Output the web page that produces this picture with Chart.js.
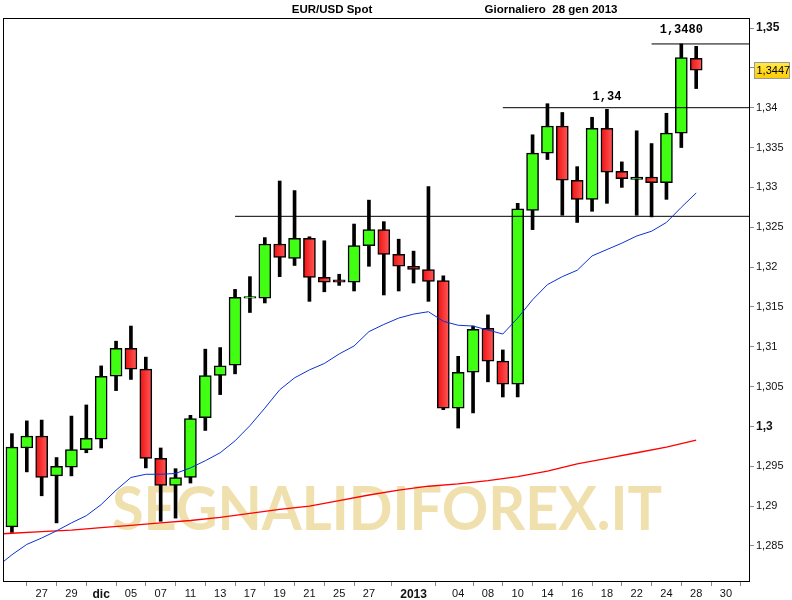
<!DOCTYPE html>
<html><head><meta charset="utf-8">
<script src="https://cdn.jsdelivr.net/npm/chart.js@4.4.1/dist/chart.umd.min.js"></script>
<style>html,body{margin:0;padding:0;background:#fff;}canvas{display:block;}</style>
</head><body>
<canvas id="c" width="792" height="600"></canvas>
<script>
// ---- DATA ----
const dayLabels = ['23','26','27','28','29','30','dic','04','05','06','07','10','11','12','13','14','17','18','19','20','21','24','25','26','27','28','31','2013','02','03','04','07','08','09','10','11','14','15','16','17','18','21','22','23','24','25','28','29','30'];
const xTickIdx = [2,4,6,8,10,12,14,16,18,20,22,24,27,30,32,34,36,38,40,42,44,46,48];
const boldXLabels = ['dic','2013'];

const openP  = [1.2874,1.2973,1.2988,1.2938,1.2949,1.2971,1.2984,1.3063,1.3098,1.3072,1.2960,1.2926,1.2936,1.3011,1.3064,1.3077,1.3161,1.3161,1.3229,1.3211,1.3236,1.3187,1.3184,1.3181,1.3227,1.3247,1.3216,1.3201,1.3197,1.3183,1.3023,1.3068,1.3123,1.3082,1.3053,1.3271,1.3343,1.3377,1.3309,1.3285,1.3374,1.3320,1.3310,1.3313,1.3306,1.3368,1.3462];
const highP  = [1.2991,1.3007,1.3008,1.2961,1.3013,1.3027,1.3076,1.3107,1.3126,1.3087,1.2973,1.2947,1.3014,1.3097,1.3099,1.3172,1.3188,1.3237,1.3308,1.3296,1.3238,1.3233,1.3191,1.3254,1.3284,1.3257,1.3235,1.3220,1.3301,1.3189,1.3088,1.3126,1.3140,1.3096,1.3280,1.3366,1.3405,1.3394,1.3326,1.3388,1.3398,1.3332,1.3371,1.3355,1.3393,1.3480,1.3477];
const lowP   = [1.2867,1.2943,1.2913,1.2879,1.2938,1.2967,1.2973,1.3045,1.3059,1.2948,1.2881,1.2885,1.2929,1.2995,1.3040,1.3066,1.3143,1.3155,1.3188,1.3202,1.3157,1.3169,1.3177,1.3170,1.3201,1.3165,1.3170,1.3180,1.3157,1.3021,1.2998,1.3017,1.3056,1.3037,1.3037,1.3247,1.3335,1.3265,1.3256,1.3270,1.3280,1.3300,1.3265,1.3263,1.3285,1.3350,1.3424];
const closeP = [1.2974,1.2988,1.2936,1.2950,1.2971,1.2985,1.3063,1.3098,1.3072,1.2960,1.2926,1.2936,1.3010,1.3064,1.3076,1.3162,1.3163,1.3229,1.3212,1.3236,1.3187,1.3181,1.3181,1.3227,1.3247,1.3216,1.3201,1.3197,1.3182,1.3023,1.3068,1.3122,1.3082,1.3053,1.3273,1.3343,1.3377,1.3309,1.3285,1.3374,1.3319,1.3311,1.3313,1.3306,1.3368,1.3463,1.3447];

const maFastStart = -1;
const maFast = [1.2824,1.2839,1.2852,1.2860,1.2869,1.2879,1.2888,1.2902,1.2920,1.2936,1.2940,1.2940,1.2941,1.2948,1.2957,1.2967,1.2982,1.3001,1.3023,1.3046,1.3061,1.3071,1.3079,1.3091,1.3101,1.3119,1.3128,1.3136,1.3141,1.3144,1.3132,1.3127,1.3126,1.3121,1.3116,1.3136,1.3159,1.3178,1.3188,1.3196,1.3214,1.3222,1.3230,1.3239,1.3245,1.3256,1.3275,1.3293];

const maSlowX = [-1,0,2,4,6,8,10,12,14,16,18,20,22,24,26,28,30,32,34,36,38,40,42,44,46];
const maSlow  = [1.2865,1.2866,1.2868,1.2870,1.2873,1.2876,1.2879,1.2882,1.2886,1.2891,1.2896,1.2900,1.2907,1.2914,1.2920,1.2925,1.2928,1.2932,1.2937,1.2944,1.2953,1.2960,1.2967,1.2974,1.2983];

const levelValues   = [1.3480, 1.3400, 1.32637];
const levelStartIdx = [43, 33, 15];
const levelLabels   = ['1,3480', '1,34', ''];
const levelLabelIdx = [45, 40, 0];

const yTickValues = [1.285,1.29,1.295,1.3,1.305,1.31,1.315,1.32,1.325,1.33,1.335,1.34,1.345,1.35];
const yTickLabels = ['1,285','1,29','1,295','1,3','1,305','1,31','1,315','1,32','1,325','1,33','1,335','1,34','','1,35'];
const boldYLabels = ['1,3','1,35'];

const chartTitle = 'EUR/USD Spot';
const chartSubtitle = 'Giornaliero  28 gen 2013';
const watermarkText = 'SEGNALIDIFOREX.IT';
const lastPriceLabel = '1,3447';

// ---- CHART ----
const X_MIN = -0.6, X_MAX = 49.55;
const Y_MIN = 1.280608, Y_MAX = 1.351255;

const wickData = highP.map((h,i)=>({x:i, y:[lowP[i], h]}));
const bodyData = openP.map((o,i)=>({x:i, y:[o, closeP[i]]}));

const datasets = [
  { type:'bar', label:'wick', data:wickData, barThickness:3, backgroundColor:'#000', borderWidth:0, grouped:false, order:3 },
  { type:'bar', label:'body', data:bodyData, barThickness:12, grouped:false, order:2,
    borderColor:'#000', borderWidth:1.5, borderSkipped:false,
    backgroundColor:(ctx)=>{
      if (ctx.type !== 'data') return '#ff2020';
      const i = ctx.dataIndex;
      if (closeP[i] >= openP[i]) return '#40FF12';
      const xs = ctx.chart.scales && ctx.chart.scales.x;
      if (!xs || !ctx.chart.chartArea) return '#ff3030';
      const px = xs.getPixelForValue(i);
      const g = ctx.chart.ctx.createLinearGradient(px-6,0,px+6,0);
      g.addColorStop(0,'#EE1010'); g.addColorStop(1,'#FF5A5A');
      return g;
    } },
  { type:'line', label:'maFast', data:maFast.map((v,k)=>({x:k+maFastStart, y:v})), borderColor:'#0A32D2', borderWidth:1, pointRadius:0, tension:0, order:0 },
  { type:'line', label:'maSlow', data:maSlow.map((v,k)=>({x:maSlowX[k], y:v})), borderColor:'#FF0000', borderWidth:1.3, pointRadius:0, tension:0, order:0 },
];
levelValues.forEach((v,k)=>{
  datasets.push({ type:'line', label:'level'+k, data:[{x:levelStartIdx[k], y:v},{x:X_MAX, y:v}], borderColor:'#000', borderWidth:1, pointRadius:0, order:1 });
});

const decor = {
  id:'decor',
  beforeDatasetsDraw(chart){
    const c = chart.ctx;
    c.save();
    c.font = "bold 61px 'Lato'";
    const w = c.measureText(watermarkText).width;
    const target = 550;
    c.translate(112, 529.5);
    c.scale(target/w, 1);
    c.fillStyle = 'rgb(239,224,174)';
    c.textBaseline = 'alphabetic';
    c.textAlign = 'left';
    c.fillText(watermarkText, 0, 0);
    c.restore();
  },
  afterDraw(chart){
    const c = chart.ctx, a = chart.chartArea;
    const xs = chart.scales.x, ys = chart.scales.y;
    c.save();
    c.strokeStyle = '#000'; c.lineWidth = 1;
    c.strokeRect(a.left+0.5, a.top+0.5, a.right-a.left, a.bottom-a.top);
    c.fillStyle = '#000';
    c.font = "bold 11.5px 'Liberation Sans'";
    c.textBaseline = 'middle'; c.textAlign = 'center';
    c.fillText(chartTitle, 332, 10);
    c.fillText(chartSubtitle, 551, 10);
    c.font = "bold 12px 'Liberation Mono'";
    const offs = [14, 10.5, 0];
    levelLabels.forEach((t,k)=>{
      if (!t) return;
      c.fillText(t, xs.getPixelForValue(levelLabelIdx[k]), ys.getPixelForValue(levelValues[k]) - offs[k]);
    });
    const py = ys.getPixelForValue(closeP[closeP.length-1]) - 0.5;
    const bx = 754.5, bw = 35, bh = 16, by = Math.round(py - bh/2) + 0.5;
    const g = c.createLinearGradient(0, by, 0, by+bh);
    g.addColorStop(0,'#FFE94A'); g.addColorStop(1,'#FFCC00');
    c.fillStyle = g; c.fillRect(bx, by, bw, bh);
    c.strokeStyle = '#9A9A9A'; c.strokeRect(bx, by, bw, bh);
    c.fillStyle = '#000'; c.font = "11px 'Liberation Sans'";
    c.textAlign = 'left'; c.textBaseline = 'middle';
    c.fillText(lastPriceLabel, 756.5, by + bh/2 + 0.5);
    c.restore();
  }
};

new Chart(document.getElementById('c'), {
  type:'bar',
  data:{ datasets },
  options:{
    responsive:false, animation:false, devicePixelRatio:1,
    layout:{ padding:{ left:3, top:18, right:0, bottom:0 } },
    plugins:{ legend:{display:false}, tooltip:{enabled:false}, title:{display:false} },
    scales:{
      x:{ type:'linear', min:X_MIN, max:X_MAX, offset:false,
        afterBuildTicks:(s)=>{ s.ticks = xTickIdx.map(v=>({value:v})); },
        afterFit:(s)=>{ s.height = 19; },
        grid:{ drawOnChartArea:false, drawTicks:true, tickLength:5, color:'#8C8C8C' },
        border:{ display:true, color:'#000' },
        ticks:{ autoSkip:false, maxRotation:0, minRotation:0, padding:1, color:'#111',
          font:(ctx)=>{ const l = ctx.tick ? dayLabels[ctx.tick.value] : ''; return boldXLabels.includes(l) ? {family:'Liberation Sans', size:12, weight:'bold'} : {family:'Liberation Sans', size:11}; },
          callback:(v)=>dayLabels[v] }
      },
      y:{ type:'linear', position:'right', min:Y_MIN, max:Y_MAX,
        afterBuildTicks:(s)=>{ s.ticks = yTickValues.map(v=>({value:v})); },
        afterFit:(s)=>{ s.width = 43; },
        grid:{ drawOnChartArea:false, drawTicks:true, tickLength:5, color:'#8C8C8C' },
        border:{ display:true, color:'#000' },
        ticks:{ padding:2, color:'#111',
          font:(ctx)=>{ const l = ctx.tick ? yTickLabels[ctx.index] : ''; return boldYLabels.includes(l) ? {family:'Liberation Sans', size:12, weight:'bold'} : {family:'Liberation Sans', size:11}; },
          callback:(v,i)=>yTickLabels[i] }
      }
    }
  },
  plugins:[decor]
});
</script>
</body></html>
